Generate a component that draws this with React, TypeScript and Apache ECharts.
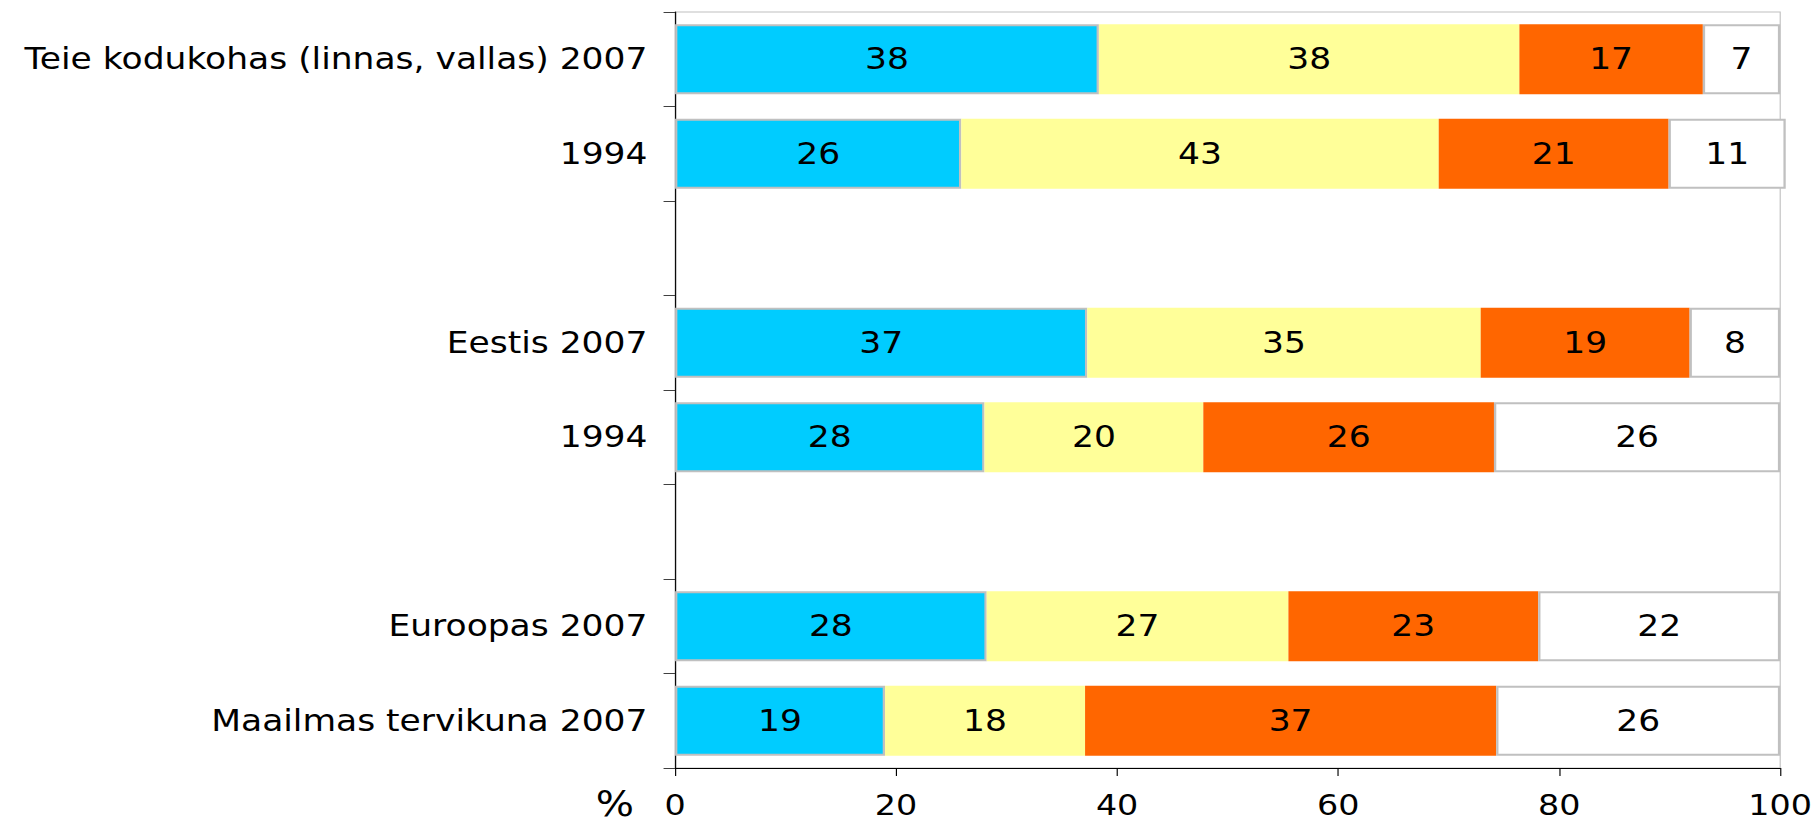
import React, { useEffect, useRef } from "react";
import * as echarts from "echarts";

const categories = [
  "Teie kodukohas (linnas, vallas) 2007",
  "1994",
  "",
  "Eestis 2007",
  "1994",
  "",
  "Euroopas 2007",
  "Maailmas tervikuna 2007",
];

// segment lengths as measured on the picture (percent)
const blueValues = [38.35, 25.9, null, 37.3, 28.0, null, 28.2, 19.0];
const yellowValues = [38.05, 43.2, null, 35.6, 19.8, null, 27.3, 18.1];
const orangeValues = [16.6, 20.8, null, 18.9, 26.3, null, 22.6, 37.2];
const whiteValues = [7.0, 10.6, null, 8.2, 25.9, null, 21.9, 25.7];

// printed labels
const blueLabels = [38, 26, null, 37, 28, null, 28, 19];
const yellowLabels = [38, 43, null, 35, 20, null, 27, 18];
const orangeLabels = [17, 21, null, 19, 26, null, 23, 37];
const whiteLabels = [7, 11, null, 8, 26, null, 22, 26];

const xTicks = [0, 20, 40, 60, 80, 100];

const FONT = "DejaVu Sans";
// the reference is stretched horizontally
const STRETCH = 1.15;
const W = 1814;
const H = 824;

function makeSeries(
  name: string,
  values: (number | null)[],
  labels: (number | null)[],
  color: string,
  bordered: boolean
) {
  return {
    name,
    type: "bar",
    stack: "total",
    clip: false,
    barCategoryGap: "26%",
    data: values.map((v) => (v === null ? "-" : v)),
    itemStyle: {
      color,
      borderColor: bordered ? "#c0c0c0" : color,
      borderWidth: bordered ? 2 : 0,
    },
    label: {
      show: true,
      position: "inside",
      fontFamily: FONT,
      fontSize: 30,
      color: "#000",
      formatter: (p: any) => {
        const l = labels[p.dataIndex];
        return l === null ? "" : String(l);
      },
    },
  };
}

export default function App() {
  const ref = useRef<HTMLDivElement>(null);
  useEffect(() => {
    if (!ref.current) return;
    const chart = echarts.init(ref.current, undefined, { renderer: "svg" });
    chart.setOption({
      animation: false,
      backgroundColor: "#ffffff",
      grid: {
        left: Math.round(675 / STRETCH),
        right: Math.round(33 / STRETCH),
        top: 12,
        bottom: 56,
        outerBoundsMode: "none",
        containLabel: false,
        show: true,
        borderColor: "#c0c0c0",
        borderWidth: 1,
        backgroundColor: "transparent",
      },
      xAxis: {
        type: "value",
        min: 0,
        max: 100,
        interval: 20,
        axisLine: { show: true, lineStyle: { color: "#000", width: 1 } },
        axisTick: { show: true, length: 8, lineStyle: { color: "#000" } },
        splitLine: { show: false },
        axisLabel: {
          fontFamily: FONT,
          fontSize: 29,
          lineHeight: 24,
          color: "#000",
          margin: 25,
          formatter: (v: number) => (xTicks.includes(v) ? String(v) : ""),
        },
      },
      yAxis: {
        type: "category",
        inverse: true,
        data: categories,
        axisLine: { show: true, lineStyle: { color: "#000", width: 1 } },
        axisTick: {
          show: true,
          length: 10,
          alignWithLabel: false,
          lineStyle: { color: "#404040" },
        },
        axisLabel: {
          fontFamily: FONT,
          fontSize: 30,
          color: "#000",
          margin: 24,
          interval: 0,
        },
        splitLine: { show: false },
      },
      graphic: [
        {
          type: "text",
          left: 518,
          top: 786,
          style: {
            text: "%",
            fontFamily: FONT,
            fontSize: 35,
            lineHeight: 35,
            fill: "#000",
          },
        },
      ],
      series: [
        makeSeries("blue", blueValues, blueLabels, "#00ccff", true),
        makeSeries("yellow", yellowValues, yellowLabels, "#ffff99", false),
        makeSeries("orange", orangeValues, orangeLabels, "#ff6600", false),
        makeSeries("white", whiteValues, whiteLabels, "#ffffff", true),
      ],
    });
    return () => chart.dispose();
  }, []);
  return (
    <div
      style={{
        position: "fixed",
        left: 0,
        top: 0,
        width: W,
        height: H,
        overflow: "hidden",
        background: "#fff",
      }}
    >
      <div
        ref={ref}
        style={{
          width: Math.round(W / STRETCH),
          height: H,
          transform: `scaleX(${STRETCH})`,
          transformOrigin: "0 0",
        }}
      />
    </div>
  );
}
